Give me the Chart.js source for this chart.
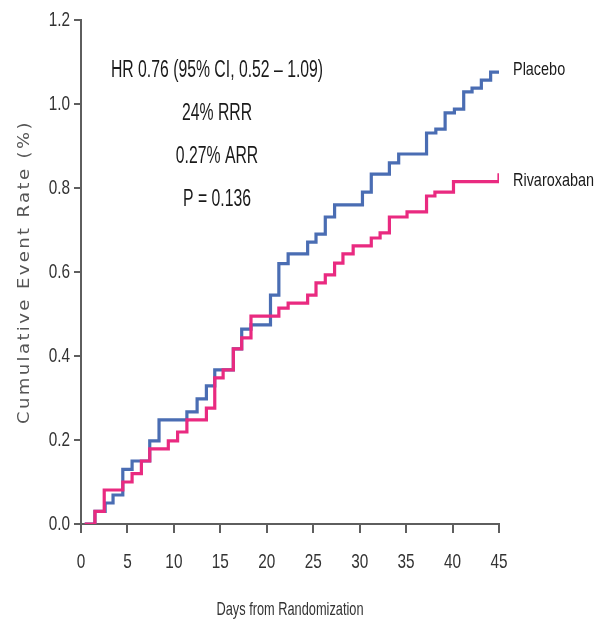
<!DOCTYPE html>
<html>
<head>
<meta charset="utf-8">
<script src="https://cdn.jsdelivr.net/npm/chart.js@4.4.1/dist/chart.umd.min.js"></script>
<style>
  html, body { margin: 0; padding: 0; background: #fff; }
  #wrap { width: 600px; height: 625px; }
</style>
</head>
<body>
<div id="wrap"><canvas id="kmChart" width="600" height="625"></canvas></div>
<script>
// step times (days) and cumulative event rate (%) after each step
const placeboDays  = [0.4, 1.5, 2.6, 3.45, 4.5, 5.5, 7.4, 8.4, 11.4, 12.5, 13.5, 14.4, 16.4, 17.3, 18.3, 20.4, 21.3, 22.3, 24.4, 25.3, 26.3, 27.3, 30.3, 31.25, 33.2, 34.2, 37.2, 38.2, 39.2, 40.2, 41.2, 42.1, 43.1, 44.1, 45];
const placeboRates = [0, 0.03, 0.05, 0.069, 0.13, 0.15, 0.198, 0.248, 0.267, 0.298, 0.329, 0.367, 0.417, 0.464, 0.474, 0.545, 0.62, 0.643, 0.671, 0.69, 0.731, 0.76, 0.79, 0.833, 0.86, 0.881, 0.931, 0.94, 0.979, 0.988, 1.029, 1.038, 1.057, 1.076, 1.076];

const rivaDays  = [0.4, 1.5, 2.5, 4.5, 5.5, 6.5, 7.4, 9.4, 10.4, 11.4, 13.5, 14.4, 15.3, 16.4, 17.3, 18.3, 21.3, 22.3, 24.4, 25.3, 26.3, 27.3, 28.2, 29.3, 31.25, 32.2, 33.2, 35.1, 37.2, 38.1, 40.1, 45, 45];
const rivaRates = [0, 0.03, 0.081, 0.1, 0.12, 0.15, 0.179, 0.198, 0.219, 0.248, 0.276, 0.348, 0.367, 0.417, 0.443, 0.495, 0.514, 0.526, 0.545, 0.574, 0.593, 0.621, 0.643, 0.662, 0.681, 0.693, 0.731, 0.743, 0.781, 0.79, 0.815, 0.815, 0.835];

const xTicks = [0, 5, 10, 15, 20, 25, 30, 35, 40, 45];
const yTicks = [0, 0.2, 0.4, 0.6, 0.8, 1.0, 1.2];

const statLines = ['HR 0.76 (95% CI, 0.52 \u2013 1.09)', '24% RRR', '0.27% ARR', 'P = 0.136'];
const seriesNames = ['Placebo', 'Rivaroxaban'];

const sans = '"Liberation Sans", Arial, sans-serif';
const axisGrey = '#5e5e5e';

function toPoints(xs, ys) {
    return xs.map((x, i) => ({ x: x, y: ys[i] }));
}

// the original uses a very condensed face, so squeeze a normal one
function squeezed(ctx, text, x, y, sx, align) {
    ctx.save();
    ctx.translate(x, y);
    ctx.scale(sx, 1);
    ctx.textAlign = align;
    ctx.fillText(text, 0, 0);
    ctx.restore();
}

const textPlugin = {
    id: 'kmText',
    afterDraw(chart) {
        const ctx = chart.ctx;
        const xs = chart.scales.x;
        const ys = chart.scales.y;

        ctx.save();
        ctx.textBaseline = 'middle';

        // tick labels, positioned by the scales
        ctx.fillStyle = '#333';
        ctx.font = '21px ' + sans;
        xs.ticks.forEach(t => {
            squeezed(ctx, String(t.value), xs.getPixelForValue(t.value), 562, 0.73, 'center');
        });
        ys.ticks.forEach(t => {
            squeezed(ctx, t.value.toFixed(1), 70, ys.getPixelForValue(t.value), 0.73, 'right');
        });

        // x axis title
        ctx.font = '18px ' + sans;
        squeezed(ctx, 'Days from Randomization', (xs.left + xs.right) / 2, 610, 0.71, 'center');

        // stats block
        ctx.fillStyle = '#1a1a1a';
        ctx.font = '23px ' + sans;
        const statY = [71, 114, 157, 200];
        statLines.forEach((t, i) => squeezed(ctx, t, 217, statY[i], 0.686, 'center'));

        // series labels at the line ends
        ctx.font = '19px ' + sans;
        squeezed(ctx, seriesNames[0], xs.right + 14, 70, 0.76, 'left');
        squeezed(ctx, seriesNames[1], xs.right + 14, 181, 0.76, 'left');
        ctx.restore();

        // y axis title, stretched and spaced like the original
        ctx.save();
        ctx.fillStyle = '#555';
        ctx.font = '15px "DejaVu Sans", sans-serif';
        ctx.textAlign = 'center';
        ctx.textBaseline = 'middle';
        ctx.letterSpacing = '2px';
        ctx.translate(25, (ys.top + ys.bottom) / 2);
        ctx.rotate(-Math.PI / 2);
        ctx.scale(1.2, 1);
        ctx.fillText('Cumulative Event Rate (%)', 0, 0);
        ctx.restore();
    }
};

const ctx = document.getElementById('kmChart').getContext('2d');
const kmChart = new Chart(ctx, {
    type: 'line',
    data: {
        datasets: [{
            label: seriesNames[1],
            data: toPoints(rivaDays, rivaRates),
            borderColor: '#e92a80',
            borderWidth: 3.2,
            pointRadius: 0,
            stepped: true,
            fill: false,
            order: 0
        }, {
            label: seriesNames[0],
            data: toPoints(placeboDays, placeboRates),
            borderColor: '#4a6db3',
            borderWidth: 3.2,
            pointRadius: 0,
            stepped: true,
            fill: false,
            order: 1
        }]
    },
    options: {
        responsive: false,
        animation: false,
        layout: {
            padding: { left: 0, right: 101, top: 20, bottom: 0 }
        },
        plugins: {
            legend: { display: false },
            tooltip: { enabled: false }
        },
        scales: {
            x: {
                type: 'linear',
                min: 0,
                max: 45,
                afterBuildTicks: (scale) => {
                    scale.ticks = xTicks.map(v => ({ value: v }));
                },
                afterFit: (scale) => { scale.height = 101; },
                border: { display: true, color: axisGrey, width: 2 },
                grid: {
                    drawOnChartArea: false,
                    drawTicks: true,
                    tickLength: 9,
                    color: axisGrey,
                    lineWidth: 2
                },
                ticks: { display: false }
            },
            y: {
                type: 'linear',
                min: 0,
                max: 1.2,
                afterBuildTicks: (scale) => {
                    scale.ticks = yTicks.map(v => ({ value: v }));
                },
                afterFit: (scale) => { scale.width = 81; },
                border: { display: true, color: axisGrey, width: 2 },
                grid: {
                    drawOnChartArea: false,
                    drawTicks: true,
                    tickLength: 7,
                    color: axisGrey,
                    lineWidth: 2
                },
                ticks: { display: false }
            }
        }
    },
    plugins: [textPlugin]
});
</script>
</body>
</html>
